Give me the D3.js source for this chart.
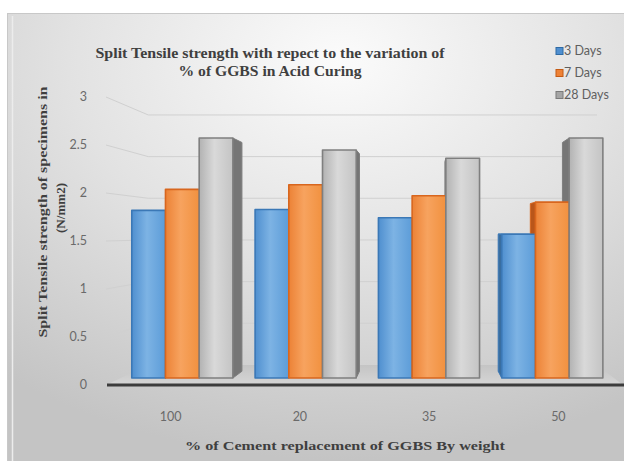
<!DOCTYPE html>
<html>
<head>
<meta charset="utf-8">
<script src="https://cdn.jsdelivr.net/npm/d3@7"></script>
<style>
  body { margin: 0; background: #ffffff; }
  svg { display: block; }
</style>
</head>
<body>
<svg id="chart" width="624" height="461"></svg>
<script>
// ---- data ----
const categories = ["100", "20", "35", "50"];
const seriesNames = ["3 Days", "7 Days", "28 Days"];
const days3 = [1.83, 1.84, 1.75, 1.57];
const days7 = [2.06, 2.11, 1.99, 1.92];
const days28 = [2.62, 2.49, 2.40, 2.62];
const yTicks = [0, 0.5, 1, 1.5, 2, 2.5, 3];
const yTickLabels = ["0", "0.5", "1", "1.5", "2", "2.5", "3"];

const seriesValues = [days3, days7, days28];

// ---- styles per series ----
const palette = [
  { front: ["#4f8fcf", "#7db3e4", "#5c9cd8"], stroke: "#3b78b6", side: "#3a6e9f", key: "#4f8fd0", keyStroke: "#2f6aa3" },
  { front: ["#ec8236", "#f7a35f", "#f1913f"], stroke: "#d8661e", side: "#b9561a", key: "#ee8236", keyStroke: "#c45a14" },
  { front: ["#b2b2b2", "#d9d9d9", "#c4c4c4"], stroke: "#7f7f7f", side: "#767676", key: "#a5a5a5", keyStroke: "#7a7a7a" }
];

const svg = d3.select("#chart");
const defs = svg.append("defs");

// chart background
const bg = defs.append("radialGradient").attr("id", "bgGrad")
  .attr("cx", "52%").attr("cy", "10%").attr("r", "85%");
bg.append("stop").attr("offset", "0%").attr("stop-color", "#fbfbfb");
bg.append("stop").attr("offset", "50%").attr("stop-color", "#e2e2e2");
bg.append("stop").attr("offset", "100%").attr("stop-color", "#c4c4c4");

palette.forEach((p, i) => {
  const g = defs.append("linearGradient").attr("id", "front" + i)
    .attr("x1", "0%").attr("x2", "100%").attr("y1", "0%").attr("y2", "0%");
  g.append("stop").attr("offset", "0%").attr("stop-color", p.front[0]);
  g.append("stop").attr("offset", "45%").attr("stop-color", p.front[1]);
  g.append("stop").attr("offset", "100%").attr("stop-color", p.front[2]);
});

const floorGrad = defs.append("linearGradient").attr("id", "floorGrad")
  .attr("x1", "0%").attr("x2", "0%").attr("y1", "0%").attr("y2", "100%");
floorGrad.append("stop").attr("offset", "0%").attr("stop-color", "#c4c4c4");
floorGrad.append("stop").attr("offset", "100%").attr("stop-color", "#d6d6d6");

svg.append("rect")
  .attr("x", 7.5).attr("y", 13.5).attr("width", 640).attr("height", 470)
  .attr("fill", "url(#bgGrad)")
  .attr("stroke", "#c8c8c8");
svg.append("line")
  .attr("x1", 12.5).attr("x2", 12.5).attr("y1", 16).attr("y2", 461)
  .attr("stroke", "#ececec").attr("stroke-width", 1.5);

// ---- scales (front plane of the 3-D box) ----
const x = d3.scaleBand().domain(categories).range([106, 623])
  .paddingInner(0.18).paddingOuter(0.09);
const xs = d3.scaleBand().domain(seriesNames).range([0, x.bandwidth()]);
const y = d3.scaleLinear().domain([0, 3]).range([385, 97]);

// simple perspective: depth z in [0,1], front plane at z = 0
const vp = { x: 426, y: 233 };
const k = 0.152;
function proj(X, Y, z) {
  const s = 1 / (1 + k * z);
  return [vp.x + (X - vp.x) * s, vp.y + (Y - vp.y) * s];
}
const poly = pts => "M" + pts.map(p => p[0].toFixed(2) + "," + p[1].toFixed(2)).join("L") + "Z";

const X0 = x.range()[0], X1 = x.range()[1];

// floor
svg.append("path")
  .attr("d", poly([proj(X0, y(0), 0), proj(X1, y(0), 0), proj(X1, y(0), 1), proj(X0, y(0), 1)]))
  .attr("fill", "url(#floorGrad)");

// gridlines: side wall diagonal + back wall horizontal
const grid = svg.append("g").attr("fill", "none").attr("stroke", "#d0d0d0").attr("stroke-width", 1);
yTicks.filter(v => v > 0).forEach(v => {
  const a = proj(X0, y(v), 0), b = proj(X0, y(v), 1), c = proj(X1, y(v), 1);
  grid.append("path").attr("d", `M${a[0]},${a[1]}L${b[0]},${b[1]}L${c[0]},${c[1]}`);
});

// front edge of floor
svg.append("line")
  .attr("x1", X0 + 1).attr("x2", 624).attr("y1", y(0)).attr("y2", y(0))
  .attr("stroke", "#3c3c3c").attr("stroke-width", 3);

// ---- bars ----
const zFront = 0.316, zBack = 0.655;
const bars = [];
categories.forEach((cat, i) => {
  seriesNames.forEach((name, j) => {
    const v = seriesValues[j][i];
    const a = x(cat) + xs(name), b = a + xs.bandwidth();
    bars.push({ a, b, top: y(v), base: y(0), j });
  });
});

const backFaces = svg.append("g");
const frontFaces = svg.append("g");
bars.forEach(d => {
  const p = palette[d.j];
  // visible side face
  let sx = null;
  if (d.b < vp.x) sx = d.b; else if (d.a > vp.x) sx = d.a;
  if (sx !== null) {
    backFaces.append("path")
      .attr("d", poly([proj(sx, d.top, zFront), proj(sx, d.top, zBack), proj(sx, d.base, zBack), proj(sx, d.base, zFront)]))
      .attr("fill", p.side).attr("stroke", p.stroke).attr("stroke-width", 1).attr("stroke-linejoin", "round");
  }
  // top face, only when it faces the viewer
  if (d.top > vp.y) {
    backFaces.append("path")
      .attr("d", poly([proj(d.a, d.top, zFront), proj(d.b, d.top, zFront), proj(d.b, d.top, zBack), proj(d.a, d.top, zBack)]))
      .attr("fill", p.front[1]).attr("stroke", p.stroke).attr("stroke-width", 1);
  }
  frontFaces.append("path")
    .attr("d", poly([proj(d.a, d.top, zFront), proj(d.b, d.top, zFront), proj(d.b, d.base, zFront), proj(d.a, d.base, zFront)]))
    .attr("fill", `url(#front${d.j})`)
    .attr("stroke", p.stroke).attr("stroke-width", 1.6).attr("stroke-linejoin", "round");
});

// ---- axes labels ----
const tickFont = "Lato, 'Liberation Sans', sans-serif";
svg.append("g").selectAll("text").data(yTicks).join("text")
  .attr("x", 87).attr("y", v => y(v)).attr("dy", "0.35em")
  .attr("text-anchor", "end")
  .attr("font-family", tickFont).attr("font-size", 12.5).attr("fill", "#6a6a6a")
  .text((v, i) => yTickLabels[i]);

svg.append("g").selectAll("text").data(categories).join("text")
  .attr("x", c => x(c) + x.bandwidth() / 2).attr("y", 421)
  .attr("text-anchor", "middle")
  .attr("font-family", tickFont).attr("font-size", 12.5).attr("fill", "#6a6a6a")
  .text(c => c);

// ---- titles ----
const serif = "'Liberation Serif', 'DejaVu Serif', serif";
const title = svg.append("g").attr("font-family", serif).attr("font-weight", "bold")
  .attr("fill", "#3f3f3f").attr("text-anchor", "middle");
title.append("text").attr("x", 270).attr("y", 58).attr("font-size", 15)
  .attr("textLength", 349).attr("lengthAdjust", "spacingAndGlyphs")
  .text("Split Tensile strength with repect to the variation of");
title.append("text").attr("x", 270).attr("y", 76).attr("font-size", 15)
  .attr("textLength", 183).attr("lengthAdjust", "spacingAndGlyphs")
  .text("% of GGBS in Acid Curing");

const yTitle = svg.append("g").attr("font-family", serif).attr("font-weight", "bold")
  .attr("fill", "#3f3f3f").attr("text-anchor", "middle");
yTitle.append("text").attr("transform", "translate(47,212) rotate(-90)")
  .attr("font-size", 13.5).attr("textLength", 251).attr("lengthAdjust", "spacingAndGlyphs")
  .text("Split Tensile strength of specimens in");
yTitle.append("text").attr("transform", "translate(65,208) rotate(-90)")
  .attr("font-size", 13.5).attr("textLength", 50).attr("lengthAdjust", "spacingAndGlyphs")
  .text("(N/mm2)");

svg.append("text").attr("x", 345).attr("y", 450)
  .attr("text-anchor", "middle")
  .attr("font-family", serif).attr("font-weight", "bold").attr("font-size", 13.5)
  .attr("fill", "#3f3f3f")
  .attr("textLength", 320).attr("lengthAdjust", "spacingAndGlyphs")
  .text("% of Cement replacement of GGBS By weight");

// ---- legend ----
const legend = svg.append("g").attr("transform", "translate(556,51)");
seriesNames.forEach((name, j) => {
  const g = legend.append("g").attr("transform", `translate(0,${j * 22})`);
  g.append("rect").attr("x", 0).attr("y", -3.5).attr("width", 7).attr("height", 7)
    .attr("fill", palette[j].key).attr("stroke", palette[j].keyStroke).attr("stroke-width", 1);
  g.append("text").attr("x", 8).attr("y", 0).attr("dy", "0.35em")
    .attr("font-family", tickFont).attr("font-size", 12.5).attr("fill", "#5f5f5f")
    .text(name);
});
</script>
</body>
</html>
